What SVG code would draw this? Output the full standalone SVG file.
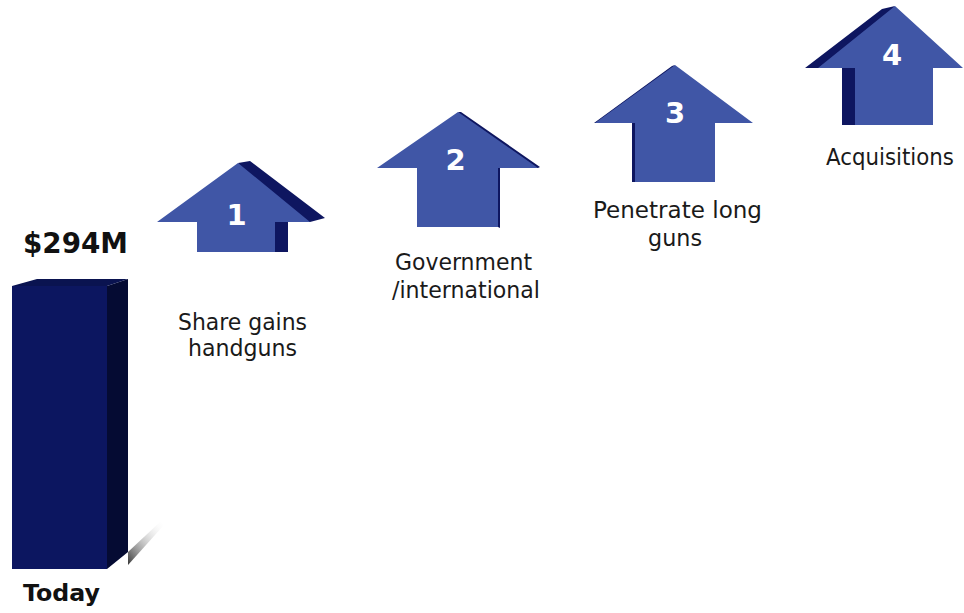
<svg xmlns="http://www.w3.org/2000/svg" width="964" height="613" viewBox="0 0 964 613">
  <defs>
    <linearGradient id="floorShade" x1="0" y1="1" x2="1" y2="0">
      <stop offset="0" stop-color="#2a2a2a" stop-opacity="0.95"/>
      <stop offset="1" stop-color="#ffffff" stop-opacity="0"/>
    </linearGradient>
  </defs>
  <style>
    .front { fill: #4056a6; }
    .depth { fill: #0e1660; }
    .num { font-family: "DejaVu Sans", Verdana, sans-serif; font-weight: bold; font-size: 29px; fill: #ffffff; text-anchor: middle; }
    .lbl { font-family: "DejaVu Sans", Verdana, sans-serif; font-size: 23px; fill: #1a1a1a; }
    .big { font-family: "DejaVu Sans", Verdana, sans-serif; font-weight: bold; fill: #111111; }
  </style>
  <rect width="964" height="613" fill="#ffffff"/>

  <!-- Today bar -->
  <g id="today">
    <polygon points="128,552 161,521 164,525 128,565" fill="url(#floorShade)"/>
    <polygon points="107,286 128,279 128,552 107,569" fill="#050b33"/>
    <polygon points="12,286 37,279 128,279 107,286" fill="#0a1350"/>
    <rect x="12" y="286" width="95" height="283" fill="#0c1660"/>
    <text class="big" x="23" y="253" font-size="28" textLength="105" lengthAdjust="spacingAndGlyphs">$294M</text>
    <text class="big" x="23" y="601" font-size="23" textLength="77" lengthAdjust="spacingAndGlyphs">Today</text>
  </g>

  <!-- Step 1 -->
  <g id="step1">
    <polygon class="depth" points="238,163 250,161 325,218 310,222 288,222 288,252 275,252 275,222"/>
    <polygon class="front" points="238,163 310,222 275,222 275,252 197,252 197,222 157,222"/>
    <text class="num" x="236.5" y="225">1</text>
    <text class="lbl" x="178" y="330" textLength="129" lengthAdjust="spacingAndGlyphs">Share gains</text>
    <text class="lbl" x="188" y="356" textLength="109" lengthAdjust="spacingAndGlyphs">handguns</text>
  </g>

  <!-- Step 2 -->
  <g id="step2">
    <polygon class="depth" points="458,112 461,112 540,167 538,168 500,168 500,228 498,227 498,168"/>
    <polygon class="front" points="458,112 538,168 498,168 498,227 417,227 417,168 377,168"/>
    <text class="num" x="455.5" y="170">2</text>
    <text class="lbl" x="395" y="270" textLength="137" lengthAdjust="spacingAndGlyphs">Government</text>
    <text class="lbl" x="392" y="298" textLength="148" lengthAdjust="spacingAndGlyphs">/international</text>
  </g>

  <!-- Step 3 -->
  <g id="step3">
    <polygon class="depth" points="675,65 672,66 594,123 595,123 632,123 632,182 635,182 635,123"/>
    <polygon class="front" points="675,65 753,123 715,123 715,182 635,182 635,123 595,123"/>
    <text class="num" x="675" y="123">3</text>
    <text class="lbl" x="593" y="218" textLength="169" lengthAdjust="spacingAndGlyphs">Penetrate long</text>
    <text class="lbl" x="648" y="246" textLength="54" lengthAdjust="spacingAndGlyphs">guns</text>
  </g>

  <!-- Step 4 -->
  <g id="step4">
    <polygon class="depth" points="895,6 882,9 805,68 818,68 842,68 842,125 855,125 855,68"/>
    <polygon class="front" points="895,6 963,68 933,68 933,125 855,125 855,68 818,68"/>
    <text class="num" x="892" y="65">4</text>
    <text class="lbl" x="826" y="165" textLength="128" lengthAdjust="spacingAndGlyphs">Acquisitions</text>
  </g>
</svg>
